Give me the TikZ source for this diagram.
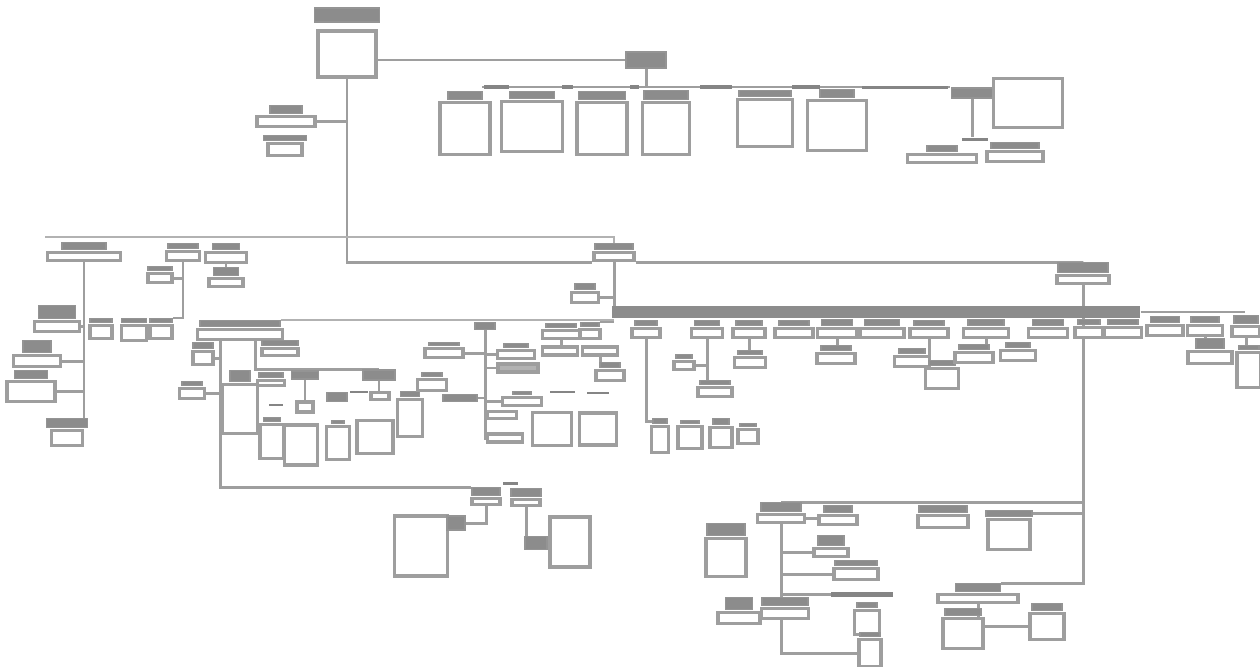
\documentclass[tikz,border=0pt]{standalone}
\usepackage{tikz}
\usetikzlibrary{positioning,calc,backgrounds}
\newcommand{\tcard}[7]{%
  \node[head, dims={#4}{#5}, anchor=north] (#1h) at (#2,#3) {};
  \node[card, dims={#6}{#7}, anchor=north] (#1) at ([yshift=-0.5pt]#1h.south) {};
}

\begin{document}
\begin{tikzpicture}[x=0.02cm, y=-0.02cm,
    dims/.style 2 args={minimum width=#1*0.02cm, minimum height=#2*0.02cm, inner sep=0pt},
    head/.style={rectangle, draw=black!42, fill=black!45, line width=0.6pt},
    card/.style={rectangle, draw=black!38, fill=white, line width=2pt},
    seg/.style={rectangle, fill=black!48, inner sep=0pt},
    wire/.style={draw=black!38, line width=1.7pt},
    thin wire/.style={draw=black!30, line width=0.9pt},
]
    \useasboundingbox (0,0) rectangle (1260,666);

    % Root and top branch
    \node[head, dims={65}{14}] (rooth) at (347,15) {};
    \node[card, dims={58}{46}] (root) at (347,54) {};
    \node[head, dims={40}{16}] (thub) at (646,60) {};
    \coordinate (trow) at (482,87);
    \coordinate (trowend) at (950,87);
    \node[seg, dims={25}{4}] (sga) at (496,87) {};
    \node[seg, dims={11}{4}] (sgb) at (567,87) {};
    \node[seg, dims={9}{4}] (sgc) at (634,87) {};
    \node[seg, dims={32}{4}] (sgd) at (716,87) {};
    \node[seg, dims={28}{4}] (sge) at (806,87) {};
    \node[seg, dims={86}{3}] (sgf) at (905,87) {};
    \tcard{ta}{465}{91}{34}{8}{50}{52}
    \tcard{tb}{532}{91}{45}{7}{61}{50}
    \tcard{tc}{602}{91}{47}{8}{50}{52}
    \tcard{td}{666}{90}{44}{9}{47}{52}
    \tcard{te}{765}{90}{52}{6}{55}{47}
    \tcard{tf}{837}{89}{34}{8}{59}{50}
    \node[head, dims={41}{10}] (tgh) at (972,93) {};
    \node[card, dims={69}{49}] (tg) at (1028,103) {};
    \node[seg, dims={26}{3}] (tgbar) at (975,139) {};
    \tcard{ti}{942}{145}{30}{6}{69}{8}
    \tcard{tj}{1015}{142}{48}{6}{56}{10}
    \tcard{lra}{286}{105}{32}{8}{58}{10}
    \tcard{lrb}{285}{135}{43}{5}{34}{12}

    % Left branch
    \coordinate (topleft) at (45,237);
    \tcard{la}{84}{242}{44}{7}{73}{8}
    \tcard{lb}{57}{305}{37}{13}{45}{10}
    \tcard{lc}{37}{340}{28}{12}{47}{11}
    \tcard{ld}{31}{370}{33}{8}{48}{20}
    \tcard{le}{67}{418}{41}{9}{31}{15}
    \tcard{lf}{183}{243}{30}{5}{33}{9}
    \tcard{lg}{160}{266}{24}{4}{24}{9}
    \tcard{sa}{101}{318}{22}{4}{22}{13}
    \tcard{sb}{134}{318}{25}{4}{25}{15}
    \tcard{sc}{161}{318}{22}{4}{22}{13}
    \tcard{lh}{226}{243}{27}{6}{41}{10}
    \tcard{li}{226}{267}{25}{8}{34}{8}

    % Middle-left cluster
    \tcard{ma}{240}{320}{80}{6}{85}{10}
    \tcard{mb}{203}{342}{20}{6}{20}{13}
    \tcard{mc}{280}{340}{36}{5}{36}{7}
    \tcard{md}{192}{381}{20}{4}{25}{10}
    \tcard{me}{240}{370}{20}{11}{35}{49}
    \tcard{mf}{271}{372}{24}{5}{27}{5}
    \node[head, dims={27}{8}] (mgh) at (305,375) {};
    \node[card, dims={16}{10}] (mg) at (305,407) {};
    \node[seg, dims={14}{2}] (mbara) at (276,405) {};
    \tcard{mh}{272}{417}{17}{4}{24}{34}
    \node[card, dims={33}{40}] (mi) at (301,445) {};
    \node[head, dims={20}{9}] (mj) at (337,397) {};
    \tcard{mk}{338}{420}{12}{3}{23}{33}
    \node[head, dims={32}{10}] (mlh) at (379,375) {};
    \node[card, dims={18}{7}] (mls) at (380,396) {};
    \node[card, dims={36}{33}] (ml) at (375,437) {};
    \tcard{mm}{410}{391}{19}{5}{25}{37}
    \node[seg, dims={18}{2}] (mbarb) at (359,392) {};
    \tcard{mn}{432}{372}{20}{4}{29}{11}
    \node[head, dims={34}{7}] (mo) at (460,398) {};
    \node[head, dims={20}{7}] (mhub) at (485,326) {};
    \tcard{mp}{444}{342}{30}{3}{38}{9}
    \tcard{mq}{516}{343}{24}{4}{37}{8}
    \node[card, fill=black!30, dims={40}{8}] (mr) at (518,368) {};
    \tcard{ms}{522}{391}{18}{3}{39}{8}
    \node[card, dims={29}{7}] (mt) at (502,415) {};
    \node[card, dims={35}{8}] (mu) at (505,438) {};
    \tcard{mv}{561}{323}{30}{4}{37}{8}
    \node[card, dims={35}{8}] (mw) at (560,351) {};
    \node[card, dims={35}{8}] (mx) at (600,351) {};
    \tcard{my}{610}{362}{20}{5}{28}{10}
    \node[card, dims={39}{33}] (mz) at (552,429) {};
    \node[card, dims={37}{32}] (mza) at (598,429) {};
    \node[seg, dims={25}{2}] (mbarc) at (562,392) {};
    \node[seg, dims={22}{2}] (mbard) at (598,393) {};

    % Middle hub and bus
    \tcard{mid}{614}{243}{38}{6}{40}{8}
    \tcard{mha}{585}{283}{20}{6}{27}{10}
    \node[seg, fill=black!45, dims={528}{12}, anchor=west] (bus) at (612,312) {};
    \coordinate (busend) at (1245,312);
    \tcard{ca}{590}{322}{18}{4}{20}{9}
    \tcard{cb}{646}{320}{22}{5}{28}{9}
    \tcard{cc}{707}{320}{25}{5}{31}{9}
    \tcard{cd}{749}{320}{26}{5}{32}{9}
    \tcard{ce}{794}{320}{30}{5}{38}{9}
    \tcard{cf}{837}{319}{31}{6}{39}{9}
    \tcard{cg}{882}{319}{35}{6}{44}{9}
    \tcard{ch}{929}{320}{30}{5}{38}{9}
    \tcard{ci}{986}{319}{36}{6}{45}{9}
    \tcard{cj}{1048}{319}{31}{6}{39}{9}
    \tcard{ck}{1089}{319}{22}{5}{28}{10}
    \tcard{cl}{1123}{319}{30}{5}{37}{10}
    \tcard{cm}{1165}{316}{29}{6}{36}{10}
    \tcard{cn}{1205}{316}{28}{6}{35}{10}
    \tcard{co}{1246}{315}{24}{8}{28}{10}
    \tcard{ea}{660}{418}{14}{5}{17}{26}
    \tcard{eb}{690}{420}{18}{3}{24}{22}
    \tcard{ec}{721}{418}{16}{6}{22}{20}
    \tcard{ed}{748}{423}{16}{3}{20}{14}
    \tcard{ee}{684}{354}{16}{4}{20}{8}
    \tcard{ef}{715}{380}{30}{4}{34}{9}
    \tcard{eg}{750}{350}{24}{4}{31}{10}
    \tcard{eh}{836}{345}{30}{5}{38}{10}
    \tcard{ei}{912}{348}{26}{5}{35}{10}
    \tcard{ej}{942}{360}{26}{5}{33}{20}
    \tcard{ek}{974}{344}{30}{5}{38}{10}
    \tcard{el}{1018}{342}{24}{5}{35}{10}
    \tcard{em}{1210}{338}{28}{10}{44}{12}
    \tcard{en}{1249}{345}{20}{4}{24}{35}

    % Bottom-centre cluster
    \tcard{ba}{486}{487}{28}{8}{28}{6}
    \tcard{bb}{526}{488}{30}{8}{28}{6}
    \node[seg, dims={15}{3}] (bbar) at (510,483) {};
    \node[card, dims={53}{60}] (bc) at (421,546) {};
    \node[head, dims={18}{14}] (bcl) at (456,523) {};
    \node[card, dims={40}{50}] (bd) at (570,542) {};
    \node[head, dims={22}{13}] (bdl) at (536,543) {};

    % Right hub and bottom-right cluster
    \tcard{rhub}{1083}{262}{50}{10}{52}{8}
    \tcard{ra}{781}{502}{40}{9}{47}{8}
    \tcard{rb}{838}{505}{28}{7}{38}{9}
    \tcard{rc}{726}{523}{38}{12}{40}{38}
    \tcard{rd}{831}{535}{26}{10}{34}{8}
    \tcard{re}{856}{560}{42}{5}{44}{11}
    \node[seg, dims={62}{5}] (rebar) at (862,594) {};
    \tcard{rf}{867}{602}{20}{5}{25}{24}
    \tcard{rg}{739}{597}{27}{12}{42}{11}
    \tcard{rh}{785}{597}{46}{8}{47}{10}
    \tcard{ri}{870}{632}{20}{4}{22}{27}
    \tcard{rj}{943}{505}{48}{7}{50}{12}
    \tcard{rk}{1009}{510}{46}{6}{42}{30}
    \tcard{rl}{978}{583}{45}{8}{80}{8}
    \tcard{rm}{963}{608}{36}{7}{40}{30}
    \tcard{rn}{1047}{603}{30}{7}{34}{26}

    % Connectors
    \begin{scope}[on background layer]
    \draw[wire] (root.east |- thub.west) -- (thub.west);
    \draw[wire] (thub.south) -- (thub.south |- trow);
    \draw[wire] (trow) -- (trowend);
    \draw[wire] (tgh.south) -- (tgh.south |- tgbar.north);
    \draw[wire] (lra.east) -- (lra.east -| root.south);
    \draw[wire] (root.south) |- (mid.south west);
    \draw[wire] (mid.south east) -| (rhubh.north);
    \draw[thin wire] (topleft) -| (midh.north);
    \draw[wire] (la.south) -- (la.south |- leh.north);
    \draw[wire] (lb.east) -- (lb.east -| la.south);
    \draw[wire] (lc.east) -- (lc.east -| la.south);
    \draw[wire] (ld.east) -- (ld.east -| la.south);
    \draw[wire] (lf.south) |- (sch.north east);
    \draw[wire] (lg.east) -- (lg.east -| lf.south);
    \draw[wire] (lh.south) -- (lih.north);
    \draw[wire] (ma.south -| me.west) |- (bah.north west);
    \draw[wire] (ma.south -| mf.west) |- (mlh.north);
    \draw[wire] (mb.east) -- (mb.east -| me.west);
    \draw[wire] (md.east) -- (md.east -| me.west);
    \draw[wire] (mgh.south) -- (mg.north);
    \draw[wire] (mlh.south) -- (mlh.south |- mls.north);
    \draw[thin wire] (mah.north east) -- (mah.north east -| mid.south);
    \draw[wire] (mhub.south) |- (mu.west);
    \draw[wire] (mp.east) -- (mp.east -| mhub.south);
    \draw[wire] (mq.west) -- (mq.west -| mhub.south);
    \draw[wire] (mr.west) -- (mr.west -| mhub.south);
    \draw[wire] (ms.west) -- (ms.west -| mhub.south);
    \draw[wire] (mo.east) -- (mo.east -| mhub.south);
    \draw[wire] (mt.west) -- (mt.west -| mhub.south);
    \draw[wire] (mv.south) -- (mv.south |- mw.north);
    \draw[wire] (mx.south) -- (mx.south |- myh.north);
    \draw[wire] (mid.south) -- (mid.south |- bus.south);
    \draw[wire] (cah.north east) -- (cah.north east -| mid.south);
    \draw[wire] (mha.east) -- (mha.east -| mid.south);
    \draw[wire] (bus.east) -- (busend);
    \draw[wire] (cb.south) |- (eah.west);
    \draw[wire] (cc.south) |- (ee.east);
    \draw[wire] (cc.south) -- (cc.south |- efh.north);
    \draw[wire] (cd.south) -- (cd.south |- egh.north);
    \draw[wire] (cf.south) -- (cf.south |- ehh.north);
    \draw[wire] (ch.south) -- (ch.south |- ejh.north);
    \draw[wire] (ei.east) -- (ei.east -| ch.south);
    \draw[wire] (ci.south) -- (ci.south |- ekh.north);
    \draw[wire] (cn.south) -- (cn.south |- emh.north);
    \draw[wire] (co.south) -- (co.south |- enh.north);
    \draw[wire] (ba.south) |- (bcl.east);
    \draw[wire] (bb.south) -- (bb.south |- bdl.north);
    \draw[wire] (rhub.south) |- (rlh.north east);
    \draw[wire] (rah.north) -- (rah.north -| rhub.south);
    \draw[wire] (rkh.east) -- (rkh.east -| rhub.south);
    \draw[wire] (ra.east) -- (ra.east -| rb.west);
    \draw[wire] (ra.south) -- (ra.south |- rhh.north);
    \draw[wire] (rd.west) -- (rd.west -| ra.south);
    \draw[wire] (re.west) -- (re.west -| ra.south);
    \draw[wire] (rebar.west) -- (rebar.west -| ra.south);
    \draw[wire] (rh.south -| ra.south) |- (ri.west);
    \draw[wire] (rl.south) |- (rn.west);
    \end{scope}
\end{tikzpicture}
\end{document}
